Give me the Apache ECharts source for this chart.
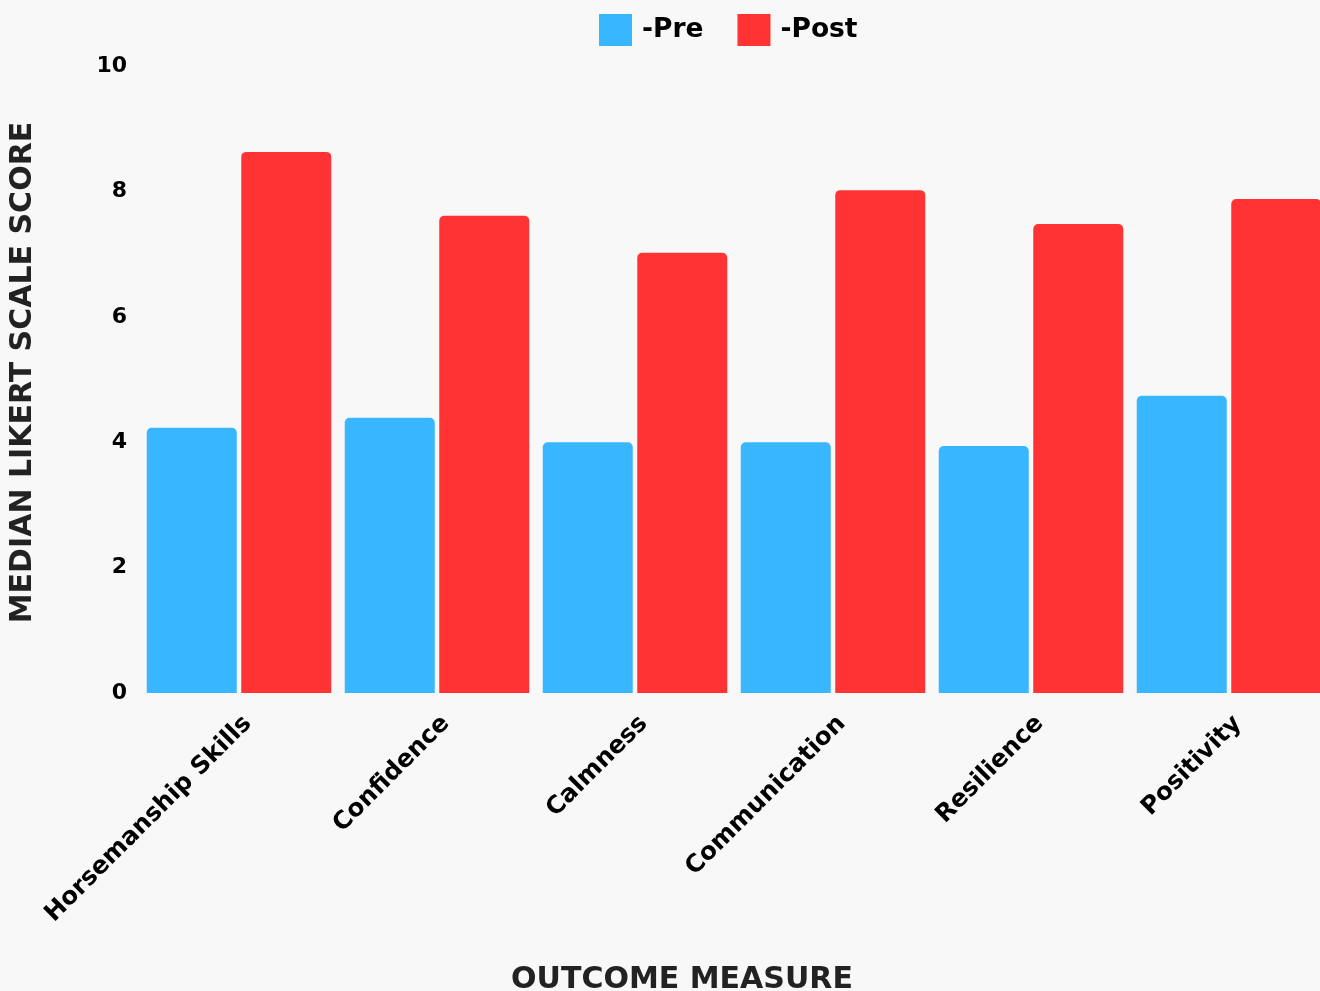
<!DOCTYPE html>
<html>
<head>
<meta charset="utf-8">
<script src="https://cdn.jsdelivr.net/npm/echarts@6/dist/echarts.min.js"></script>
<style>
html,body{margin:0;padding:0;background:#f8f8f8;}
#main{width:1320px;height:991px;}
</style>
</head>
<body>
<div id="main"></div>
<script>
const categories = ['Horsemanship Skills','Confidence','Calmness','Communication','Resilience','Positivity'];
const preValues = [4.23, 4.39, 4.0, 4.0, 3.94, 4.74];
const postValues = [8.63, 7.61, 7.02, 8.02, 7.48, 7.88];
const yTicks = [0, 2, 4, 6, 8, 10];

const FONT = 'DejaVu Sans';
const chart = echarts.init(document.getElementById('main'));
chart.setOption({
  backgroundColor: '#f8f8f8',
  textStyle: { fontFamily: FONT },
  title: {
    text: 'OUTCOME MEASURE',
    left: 677,
    top: 960,
    textAlign: 'center',
    textStyle: { fontFamily: FONT, fontWeight: 'bold', fontSize: 30, color: '#222' }
  },
  legend: {
    top: 9,
    left: 594,
    itemWidth: 33,
    itemHeight: 32,
    itemGap: 34,
    icon: 'rect',
    textStyle: { fontFamily: FONT, fontWeight: 'bold', fontSize: 26.5, color: '#000', padding: [0, 0, 0, 5] },
    data: ['-Pre', '-Post']
  },
  grid: { left: 140, right: -8, top: 66, bottom: 298, containLabel: false, outerBoundsMode: 'none' },
  xAxis: {
    type: 'category',
    data: categories,
    axisLine: { show: false },
    axisTick: { show: false },
    axisLabel: {
      rotate: 45,
      interval: 0,
      margin: 18,
      fontFamily: FONT,
      fontWeight: 'bold',
      fontSize: 24.5,
      color: '#000',
      verticalAlign: 'top'
    }
  },
  yAxis: {
    type: 'value',
    min: yTicks[0],
    max: yTicks[yTicks.length - 1],
    interval: 2,
    splitLine: { show: false },
    axisLine: { show: false },
    axisTick: { show: false },
    axisLabel: {
      margin: 13,
      fontFamily: FONT,
      fontWeight: 'bold',
      fontSize: 22,
      color: '#000'
    },
    name: 'MEDIAN LIKERT SCALE SCORE',
    nameLocation: 'middle',
    nameGap: 102,
    nameTextStyle: { fontFamily: FONT, fontWeight: 'bold', fontSize: 30, color: '#222', padding: [0, 0, 0, 14] }
  },
  series: [
    {
      name: '-Pre', type: 'bar', data: preValues,
      barWidth: 90, barGap: '5%',
      itemStyle: { color: '#38b6ff', borderRadius: [5, 5, 0, 0] }
    },
    {
      name: '-Post', type: 'bar', data: postValues,
      barWidth: 90, barGap: '5%',
      itemStyle: { color: '#ff3333', borderRadius: [5, 5, 0, 0] }
    }
  ]
});
</script>
</body>
</html>
